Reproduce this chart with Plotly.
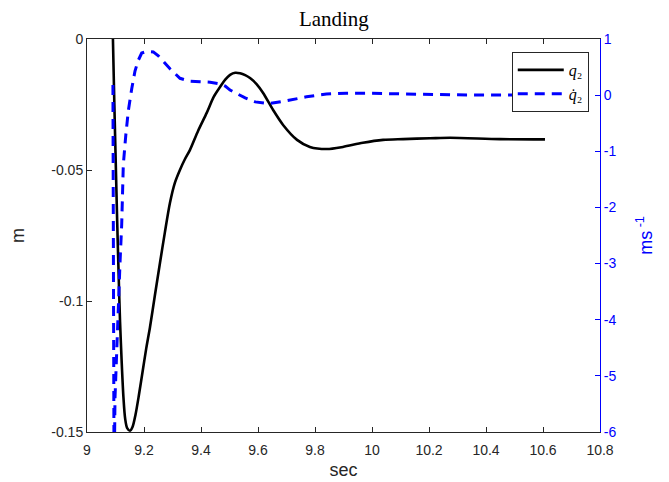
import plotly.graph_objects as go

# ---- data ----
t_q2 = [9.091, 9.096, 9.101, 9.106, 9.111, 9.116, 9.122, 9.128, 9.134, 9.141,
        9.151, 9.160, 9.170, 9.182, 9.195, 9.208, 9.221, 9.238, 9.256, 9.273,
        9.291, 9.308, 9.326, 9.343, 9.361, 9.390, 9.420, 9.445, 9.467, 9.485,
        9.502, 9.520, 9.537, 9.555, 9.572, 9.595, 9.618, 9.653, 9.688, 9.737,
        9.782, 9.842, 9.898, 9.968, 10.039, 10.109, 10.204, 10.274, 10.449, 10.607]
q2 = [0.0, -0.025, -0.048, -0.070, -0.090, -0.108, -0.124, -0.137, -0.145, -0.1485,
      -0.1495, -0.148, -0.1435, -0.136, -0.127, -0.118, -0.110, -0.098, -0.0855, -0.074,
      -0.0626, -0.055, -0.050, -0.046, -0.0424, -0.035, -0.0282, -0.022, -0.0183, -0.0155,
      -0.0137, -0.0129, -0.0131, -0.0138, -0.0149, -0.0172, -0.0206, -0.0271, -0.0328, -0.0385,
      -0.0412, -0.0420, -0.0412, -0.0396, -0.0385, -0.0382, -0.0379, -0.0377, -0.0382, -0.0383]

t_dq2 = [9.091, 9.0925, 9.0950, 9.0982, 9.1063, 9.1158, 9.1218, 9.1274, 9.1360, 9.1449,
         9.1568, 9.1684, 9.1800, 9.1919, 9.2105, 9.2326, 9.2502, 9.2700, 9.2912, 9.3263,
         9.3600, 9.3965, 9.4320, 9.4667, 9.4850, 9.5020, 9.5250, 9.5550, 9.5900, 9.6400,
         9.7000, 9.7700, 9.8400, 9.9100, 9.9800, 10.050, 10.170, 10.300, 10.450, 10.607]
dq2 = [0.18, -7.0, -7.0, -5.40, -4.18, -2.99, -2.30, -1.24, -0.72, -0.28,
       0.11, 0.43, 0.62, 0.75, 0.78, 0.77, 0.70, 0.59, 0.47, 0.30,
       0.25, 0.24, 0.23, 0.20, 0.16, 0.09, 0.03, -0.05, -0.12, -0.15,
       -0.10, -0.03, 0.02, 0.035, 0.035, 0.025, 0.015, 0.005, 0.0, 0.0]

x_ticks = [9, 9.2, 9.4, 9.6, 9.8, 10, 10.2, 10.4, 10.6, 10.8]
x_ticktext = ["9", "9.2", "9.4", "9.6", "9.8", "10", "10.2", "10.4", "10.6", "10.8"]
yl_ticks = [-0.15, -0.1, -0.05, 0]
yl_ticktext = ["-0.15", "-0.1", "-0.05", "0"]
yr_ticks = [-6, -5, -4, -3, -2, -1, 0, 1]
yr_ticktext = ["-6", "-5", "-4", "-3", "-2", "-1", "0", "1"]

AX = "#262626"
BLUE = "#0000ff"
SANS = "Liberation Sans, Arial, sans-serif"
SERIF = "Liberation Serif, Times New Roman, serif"

fig = go.Figure()
fig.add_trace(go.Scatter(
    x=t_q2, y=q2, mode="lines", name="<i>q</i>\u2082",
    line=dict(color="black", width=2.6, shape="spline", smoothing=0.8), yaxis="y"))
fig.add_trace(go.Scatter(
    x=t_dq2, y=dq2, mode="lines", name="<i>q\u0307</i>\u2082",
    line=dict(color=BLUE, width=3, dash="10px,7px"), yaxis="y2"))

# page body has an 8px margin: figure is placed at (8, 8) in the window
fig.update_layout(
    width=661, height=474,
    margin=dict(l=79, r=69, t=31, b=50, autoexpand=False),
    paper_bgcolor="white", plot_bgcolor="white",
    title=dict(text="Landing", x=0.493, xanchor="center", y=0.994, yanchor="top",
               pad=dict(t=0, b=0, l=0, r=0),
               font=dict(family=SERIF, size=21, color="black")),
    showlegend=True,
    legend=dict(x=0.828, y=0.967, xanchor="left", yanchor="top",
                bgcolor="white", bordercolor=AX, borderwidth=1,
                font=dict(family=SERIF, size=16, color="black"),
                tracegroupgap=0, itemwidth=46),
    xaxis=dict(range=[9, 10.8], tickvals=x_ticks, ticktext=x_ticktext,
               showgrid=False, zeroline=False, showline=True, linecolor=AX, linewidth=1,
               mirror="ticks", ticks="inside", ticklen=5, tickcolor=AX,
               ticklabelstandoff=5,
               tickfont=dict(family=SANS, size=14, color=AX),
               title=dict(text="sec", font=dict(family=SANS, size=18, color=AX), standoff=6)),
    yaxis=dict(range=[-0.15, 0], tickvals=yl_ticks, ticktext=yl_ticktext,
               showgrid=False, zeroline=False, showline=True, linecolor=AX, linewidth=1,
               ticks="inside", ticklen=5, tickcolor=AX,
               tickfont=dict(family=SANS, size=14, color=AX),
               title=dict(text="m", font=dict(family=SANS, size=18, color=AX), standoff=22)),
    yaxis2=dict(range=[-6, 1], tickvals=yr_ticks, ticktext=yr_ticktext,
                overlaying="y", side="right",
                showgrid=False, zeroline=False, showline=True, linecolor=BLUE, linewidth=1,
                ticks="inside", ticklen=5, tickcolor=BLUE,
                tickfont=dict(family=SANS, size=14, color=BLUE),
                title=dict(text="ms<sup> -1</sup>", font=dict(family=SANS, size=18, color=BLUE),
                           standoff=23)),
)

fig.write_html("out.html")
